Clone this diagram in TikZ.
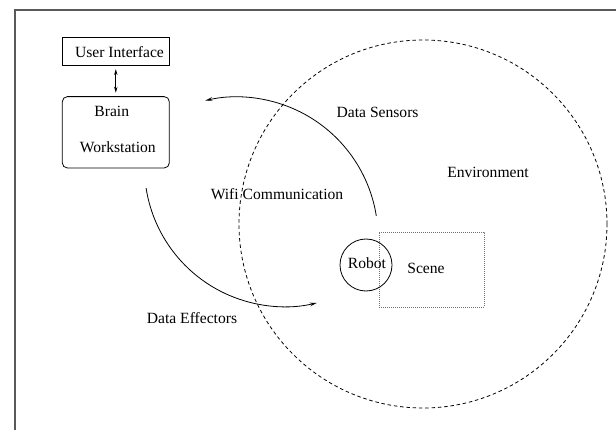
\documentclass[tikz,border=0pt]{standalone}
\usepackage{fontspec}
\setmainfont{Liberation Serif}
\usetikzlibrary{arrows.meta}
\begin{document}
\begin{tikzpicture}[x=1pt,y=1pt,
  every node/.style={font=\fontsize{15.6}{18}\selectfont, inner sep=0pt},
  boxnode/.style={draw, line width=0.8pt, inner sep=0pt},
  lbl/.style={},
  flow/.style={line width=0.8pt, -{Stealth[length=7pt,width=3.6pt]}},
  envline/.style={line width=0.8pt, dash pattern=on 3.5pt off 2.8pt},
  sceneline/.style={line width=0.9pt, black!55, dash pattern=on 0.9pt off 1.1pt},
  framestyle/.style={line width=1.3pt, black!65}]
\useasboundingbox (0,0) rectangle (616,429);
% frame
\coordinate (fbl) at (15,-20);
\coordinate (ftl) at (15,419);
\coordinate (ftr) at (640,419);
\draw[framestyle] (fbl) -- (ftl) -- (ftr);
% boxes
\node[boxnode, minimum width=107, minimum height=28] (ui) at (115.8,377.8) {};
\node[lbl] (uit) at (119.5,376.7) {User Interface};
\node[boxnode, rounded corners=5pt, minimum width=107, minimum height=71.3] (brain) at (115.8,296.7) {};
\node[lbl] (braint) at (111.8,317.3) {Brain};
\node[lbl] (wst) at (117.8,281.3) {Workstation};
\draw[line width=0.8pt, {Stealth[length=6pt,width=3.4pt]}-{Stealth[length=6pt,width=3.4pt]}, shorten <=3.5pt, shorten >=3.5pt] (ui.south) -- (brain.north);
% environment
\node[circle, draw, envline, minimum size=368] (env) at (423,205) {};
\node[lbl] (envt) at (488,257) {Environment};
% scene
\node[draw, sceneline, minimum width=105, minimum height=75] (scene) at (431.5,159.5) {};
\node[lbl] (scenet) at (426,161) {Scene};
% robot
\node[circle, draw, line width=0.8pt, minimum size=52] (robot) at (366,164) {};
\node[lbl] (robott) at (367,166) {Robot};
% labels
\node[lbl] (sens) at (377.6,316.7) {Data Sensors};
\node[lbl] (wifi) at (277,235) {Wifi Communication};
\node[lbl] (eff) at (192,111) {Data Effectors};
% arcs
\coordinate (sensStart) at (376.3,213.1);
\coordinate (effStart) at (146.1,240.9);
\draw[flow] (sensStart) arc[start angle=9, end angle=103, radius=141];
\draw[flow] (effStart) arc[start angle=188.8, end angle=283.4, radius=140];
\end{tikzpicture}
\end{document}
